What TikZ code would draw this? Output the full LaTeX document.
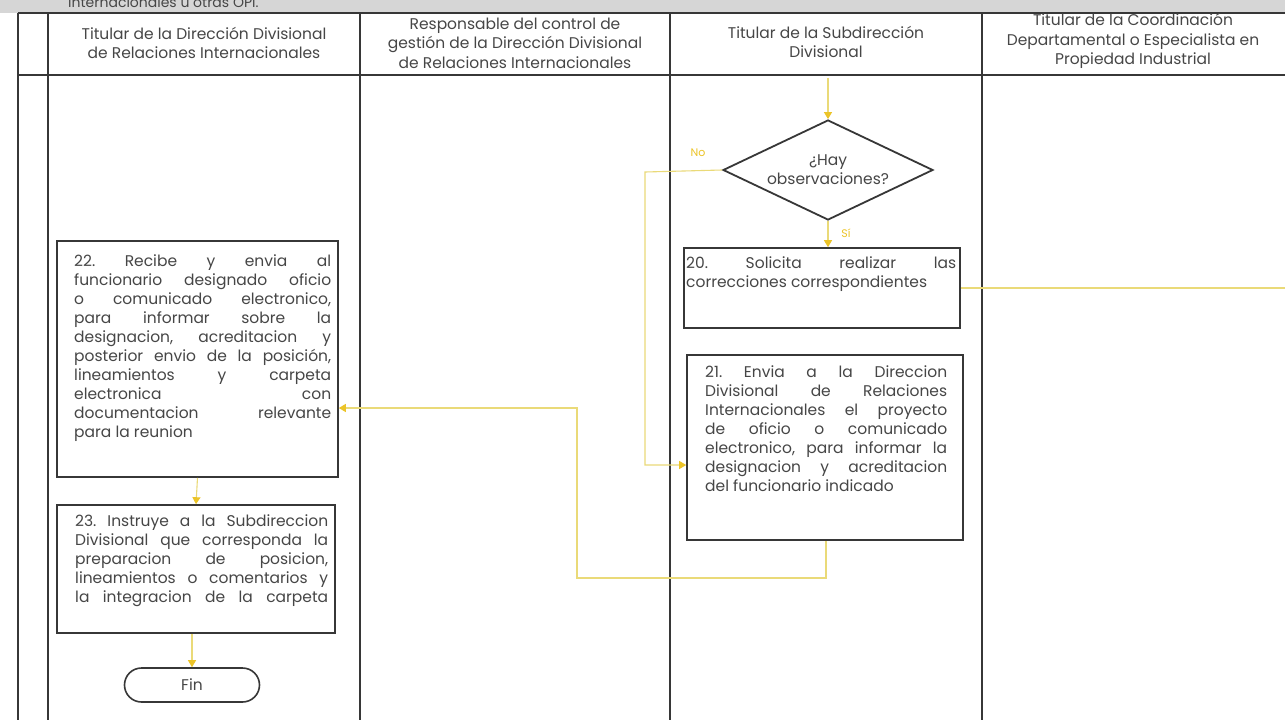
\documentclass[tikz,border=0pt]{standalone}
\usepackage{fontspec}
\setmainfont{Poppins}
\usetikzlibrary{arrows.meta,shapes.geometric}
\definecolor{lanecol}{RGB}{55,55,55}
\definecolor{flowcol}{RGB}{234,218,120}
\definecolor{tipcol}{RGB}{236,196,40}
\definecolor{txtcol}{RGB}{70,70,70}
\definecolor{bandcol}{RGB}{214,214,214}
% one fully justified line of a box text (spaces made evenly stretchable)
\newcommand\jline[1]{\makebox[\hsize][s]{\frenchspacing\spaceskip=0pt\xspaceskip=0pt\relax #1}}
\begin{document}
\begin{tikzpicture}[x=1pt,y=-1pt,
  font=\fontsize{15.5}{19}\selectfont,
  lane/.style={draw=lanecol,line width=1.6pt},
  frame/.style={draw=lanecol,line width=1.6pt,rectangle,inner sep=0pt},
  boxtext/.style={anchor=north west,inner sep=0pt,align=justify,text=txtcol},
  head/.style={align=center,text=txtcol,font=\fontsize{15.5}{19.5}\selectfont},
  flow/.style={draw=flowcol,line width=1.1pt,-{Triangle[length=7pt,width=8pt,color=tipcol]}},
  flowline/.style={draw=flowcol,line width=1.1pt},
  flowlabel/.style={text=tipcol,font=\fontsize{11}{13}\selectfont}]
\useasboundingbox (0,0) rectangle (1285,720);
\begin{scope}
\clip (0,0) rectangle (1285,720);
\fill[white] (0,0) rectangle (1285,720);
% title band of the form
\fill[bandcol] (0,0) rectangle (1285,13);
\node[anchor=base west,inner sep=0pt,text=txtcol,font=\fontsize{14}{16}\selectfont] (band) at (68,7) {Internacionales u otras OPI.};
% swimlane grid
\draw[lane] (18,13) -- (1285,13);
\draw[lane] (18,75) -- (1285,75);
\foreach \x in {18,48,360,670,982} \draw[lane] (\x,13) -- (\x,720);
\end{scope}

% lane headers
\node[head] (h1) at (204,43) {Titular de la Dirección Divisional\\de Relaciones Internacionales};
\node[head] (h2) at (515,43) {Responsable del control de\\gestión de la Dirección Divisional\\de Relaciones Internacionales};
\node[head] (h3) at (826,42) {Titular de la Subdirección\\Divisional};
\node[head] (h4) at (1133,41) {Titular de la Coordinación\\Departamental o Especialista en\\Propiedad Industrial};

% decision
\node[draw=lanecol,line width=1.8pt,diamond,aspect=2.1,inner sep=0pt,
  minimum width=210,minimum height=100,align=center,text=txtcol] (dec) at (828,170)
  {¿Hay\\observaciones?};

% process boxes
\node[frame,minimum width=276,minimum height=80] (box20) at (822,288) {};
\node[boxtext,text width=270] (t20) at (686,257)
  {\jline{20. Solicita realizar las}\\correcciones correspondientes};

\node[frame,minimum width=276,minimum height=185] (box21) at (825,447.5) {};
\node[boxtext,text width=242] (t21) at (705,366)
  {\jline{21. Envia a la Direccion}\\
   \jline{Divisional de Relaciones}\\
   \jline{Internacionales el proyecto}\\
   \jline{de oficio o comunicado}\\
   \jline{electronico, para informar la}\\
   \jline{designacion y acreditacion}\\
   del funcionario indicado};

\node[frame,minimum width=281,minimum height=236] (box22) at (197.5,359) {};
\node[boxtext,text width=257] (t22) at (74,255)
  {\jline{22. Recibe y envia al}\\
   \jline{funcionario designado oficio}\\
   \jline{o comunicado electronico,}\\
   \jline{para informar sobre la}\\
   \jline{designacion, acreditacion y}\\
   \jline{posterior envio de la posición,}\\
   \jline{lineamientos y carpeta}\\
   \jline{electronica con}\\
   \jline{documentacion relevante}\\
   para la reunion};

\node[frame,minimum width=278,minimum height=128] (box23) at (196,569) {};
\node[boxtext,text width=253] (t23) at (75,514)
  {\jline{23. Instruye a la Subdireccion}\\
   \jline{Divisional que corresponda la}\\
   \jline{preparacion de posicion,}\\
   \jline{lineamientos o comentarios y}\\
   \jline{la integracion de la carpeta}};

% terminator
\node[draw=lanecol,line width=1.6pt,rounded corners=17pt,minimum width=135,
  minimum height=34,text=txtcol] (fin) at (192,685) {Fin};

% connectors
\coordinate (entry) at (828,78);
\coordinate (nobend) at (645,172);
\coordinate (nodown) at (645,465);
\coordinate (offright) at (1285,288);
\coordinate (retdown) at (826,578);
\coordinate (retleft) at (577,578);
\coordinate (retup) at (577,408);

\draw[flow] (entry) -- (dec.north);
\draw[flow] (dec.west) -- (nobend) -- (nodown) -- (box21.west |- nodown);
\node[flowlabel] (nolab) at (698,153) {No};
\draw[flow] (dec.south) -- (dec.south |- box20.north);
\node[flowlabel] (silab) at (846,233) {Sí};
\draw[flowline] (box20.east) -- (offright);
\draw[flow] (box21.south -| retdown) -- (retdown) -- (retleft) -- (retup) -- (box22.east |- retup);
\draw[flow] (box22.south) -- (box23.north);
\draw[flow] (box23.south -| fin.north) -- (fin.north);
\end{tikzpicture}
\end{document}
